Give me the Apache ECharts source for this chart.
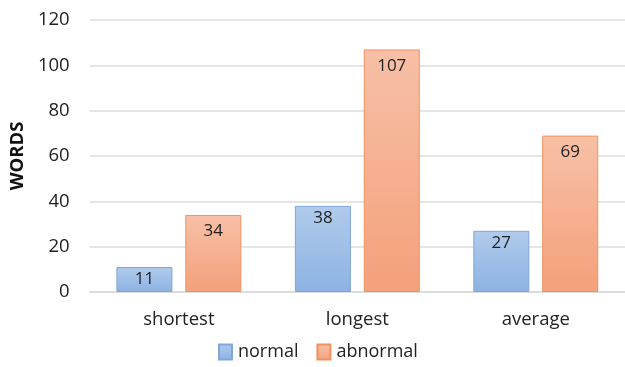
<!DOCTYPE html>
<html>
<head>
<meta charset="utf-8">
<script src="https://cdn.jsdelivr.net/npm/echarts@6/dist/echarts.min.js"></script>
<style>
  html, body { margin: 0; padding: 0; background: #fff; }
  #chart { width: 625px; height: 367px; }
</style>
</head>
<body>
<div id="chart"></div>
<script>
// Word counts per sentence measure
const categories = ['shortest', 'longest', 'average'];
const normalValues = [11, 38, 27];
const abnormalValues = [34, 107, 69];
const yTicks = [0, 20, 40, 60, 80, 100, 120];

const FONT = 'Open Sans, Lato, sans-serif';

function grad(top, bottom) {
  return new echarts.graphic.LinearGradient(0, 0, 0, 1, [
    { offset: 0, color: top },
    { offset: 1, color: bottom }
  ]);
}

const blueFill = grad('#b0cbec', '#8db2e2');
const orangeFill = grad('#f7c0a6', '#f4a07b');

const chart = echarts.init(document.getElementById('chart'));
chart.setOption({
  animation: false,
  grid: { left: 86, right: -1, top: 20, bottom: 75 },
  legend: {
    bottom: 1,
    left: 213,
    icon: 'rect',
    itemWidth: 13,
    itemHeight: 15,
    itemGap: 18,
    textStyle: { fontFamily: FONT, fontSize: 18, color: '#222', padding: [0, 0, 0, 1] },
    data: ['normal', 'abnormal']
  },
  xAxis: {
    type: 'category',
    data: categories,
    axisLine: { lineStyle: { color: '#d9d9d9', width: 1.5 } },
    axisTick: { show: false },
    axisLabel: { fontFamily: FONT, fontSize: 18.5, color: '#222', margin: 18 }
  },
  yAxis: {
    type: 'value',
    min: yTicks[0],
    max: yTicks[yTicks.length - 1],
    interval: 20,
    name: 'WORDS',
    nameLocation: 'middle',
    nameGap: 58,
    nameTextStyle: { fontFamily: FONT, fontSize: 18.5, fontWeight: 'bold', color: '#111' },
    axisLine: { show: false },
    axisTick: { show: false },
    axisLabel: { fontFamily: FONT, fontSize: 18.5, color: '#222', margin: 20 },
    splitLine: { lineStyle: { color: '#dcdcdc', width: 1.5 } }
  },
  series: [
    {
      name: 'normal',
      type: 'bar',
      data: normalValues,
      barWidth: 56,
      barGap: '23%',
      itemStyle: { color: blueFill, borderColor: '#7ea6da', borderWidth: 1 },
      label: {
        show: true, position: 'insideTop', distance: 4,
        fontFamily: FONT, fontSize: 17, color: '#222'
      }
    },
    {
      name: 'abnormal',
      type: 'bar',
      data: abnormalValues,
      barWidth: 56,
      itemStyle: { color: orangeFill, borderColor: '#f0925e', borderWidth: 1 },
      label: {
        show: true, position: 'insideTop', distance: 8,
        fontFamily: FONT, fontSize: 17, color: '#222'
      }
    }
  ]
});
</script>
</body>
</html>
